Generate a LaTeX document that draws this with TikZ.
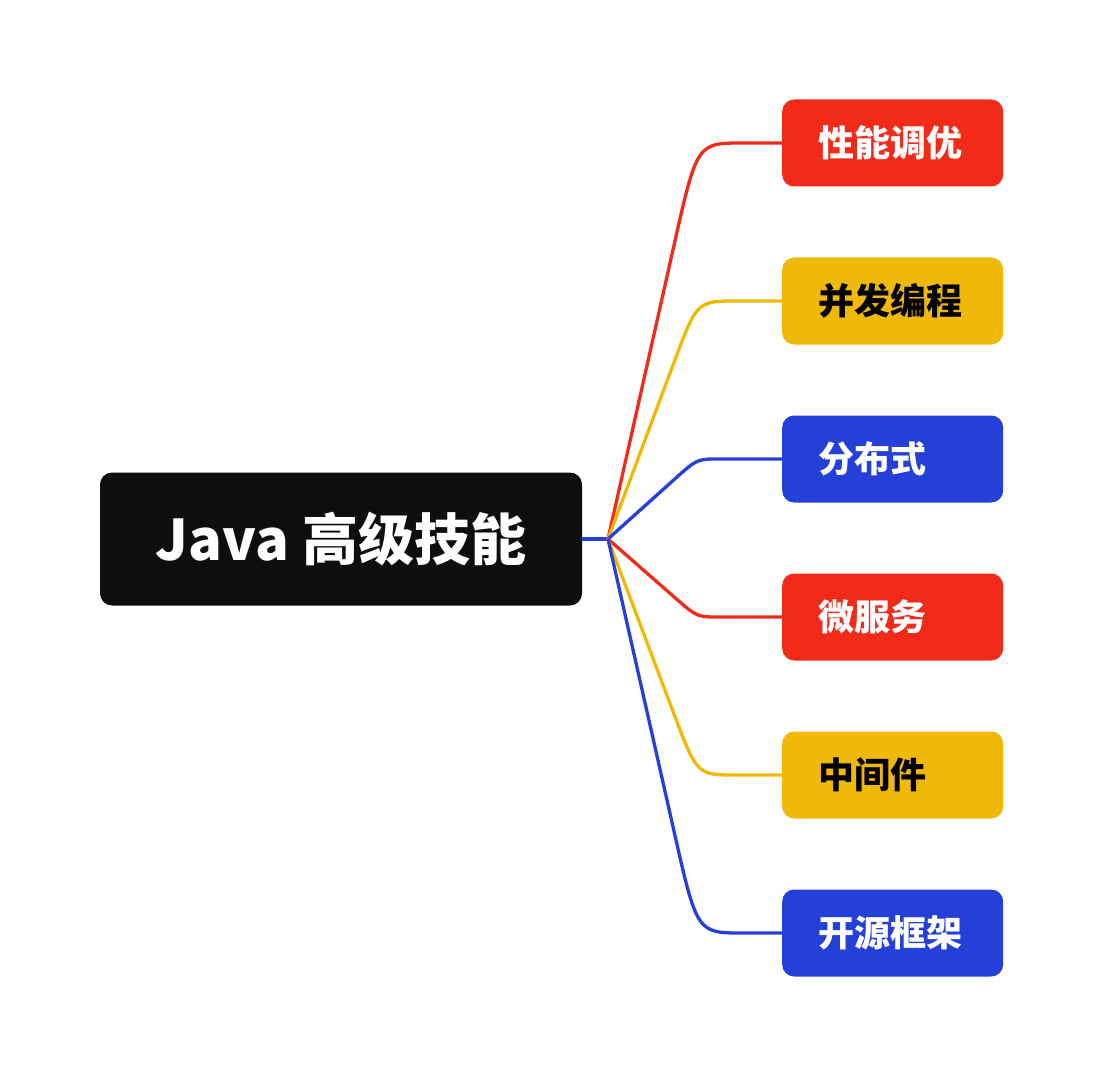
\documentclass[tikz,border=0pt]{standalone}
\usepackage{fontspec}
\newfontfamily\cjk{Noto Sans CJK SC}
\usetikzlibrary{positioning,calc}
\definecolor{mindred}{RGB}{242,42,26}
\definecolor{mindyellow}{RGB}{240,184,8}
\definecolor{mindblue}{RGB}{36,64,216}
\definecolor{mindblack}{RGB}{14,14,14}

\tikzset{
  rootbox/.style={fill=mindblack,rounded corners=12pt,minimum width=482pt,minimum height=133pt,
    inner sep=0pt,text=white,font=\cjk\bfseries\fontsize{56}{60}\selectfont},
  leafbox/.style={rounded corners=12pt,minimum height=87pt,text width=149pt,align=left,
    inner xsep=36pt,inner ysep=0pt,font=\cjk\bfseries\fontsize{36}{40}\selectfont},
  branch/.style={line width=3.3pt}
}

\begin{document}
\begin{tikzpicture}[x=1pt,y=-1pt]
  \useasboundingbox (0,0) rectangle (1104,1078);
  % Central topic
  \node[rootbox] (root) at (341,539) {Java 高级技能};
  \coordinate (hub) at (608,539);
  \draw[branch,mindblue] (root.east) -- (hub);
  % Subtopics and their branches
  \foreach \nm/\yy/\ee/\col/\fg/\txt in {perf/143/46/mindred/white/性能调优,
      conc/301/40/mindyellow/black/并发编程,
      dist/459/22/mindblue/white/分布式,
      micro/617/22/mindred/white/微服务,
      mid/775/40/mindyellow/black/中间件,
      frame/933/46/mindblue/white/开源框架}{
    \node[leafbox,fill=\col,text=\fg,anchor=west] (leaf-\nm) at (782,\yy) {\txt};
    \coordinate (k-\nm) at (697,\yy);
    \coordinate (e-\nm) at (697+\ee,\yy);
    \draw[branch,\col] (hub) -- ($(hub)!0.74!(k-\nm)$) .. controls (k-\nm) .. (e-\nm) -- (leaf-\nm.west);
  }
\end{tikzpicture}
\end{document}
